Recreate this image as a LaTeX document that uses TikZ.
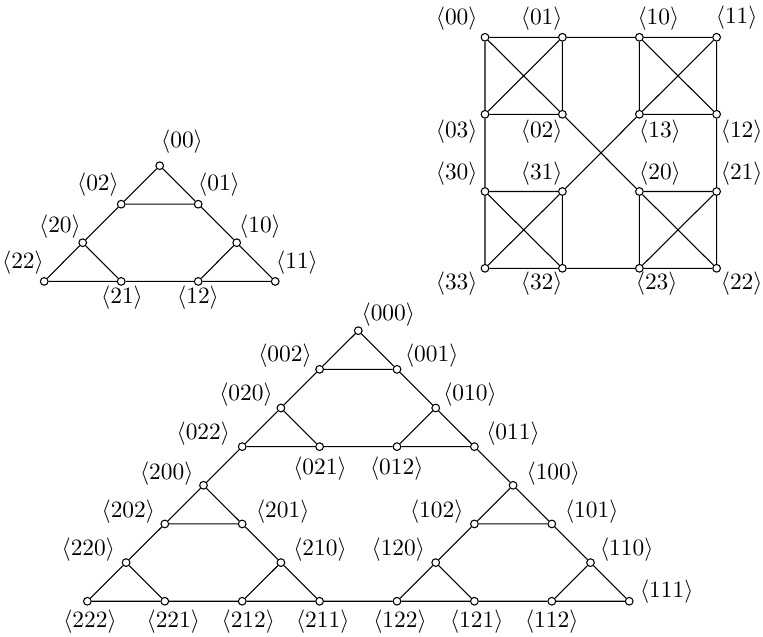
\documentclass[tikz,border=0pt]{standalone}
\begin{document}
\begin{tikzpicture}[x=0.468pt,y=-0.468pt,
  vtx/.style={circle,draw,fill=white,inner sep=0pt,minimum size=3.6pt,line width=0.5pt},
  edge/.style={line width=0.5pt},
  lbl/.style={inner sep=0pt,anchor=center,font=\fontsize{11}{13}\selectfont}]
\useasboundingbox (0,0) rectangle (763,637);
% ===== top-left triangle =====
\node[vtx] (a00) at (159.7,165.7) {};
\node[vtx] (a02) at (121.2,204.2) {};
\node[vtx] (a01) at (198.2,204.2) {};
\node[vtx] (a20) at (82.7,242.7) {};
\node[vtx] (a10) at (236.7,242.7) {};
\node[vtx] (a22) at (44.2,281.4) {};
\node[vtx] (a21) at (121.2,281.4) {};
\node[vtx] (a12) at (198.2,281.4) {};
\node[vtx] (a11) at (275.2,281.4) {};
\draw[edge] (a00)--(a02) (a00)--(a01) (a02)--(a01) (a02)--(a20) (a01)--(a10)
  (a20)--(a22) (a20)--(a21) (a22)--(a21) (a21)--(a12) (a10)--(a12) (a10)--(a11) (a12)--(a11);
\node[lbl] (la00) at (182,142) {$\langle 00\rangle$};
\node[lbl] (la02) at (98,185) {$\langle 02\rangle$};
\node[lbl] (la01) at (219,185) {$\langle 01\rangle$};
\node[lbl] (la20) at (60,227) {$\langle 20\rangle$};
\node[lbl] (la10) at (260,227) {$\langle 10\rangle$};
\node[lbl] (la22) at (23,263) {$\langle 22\rangle$};
\node[lbl] (la11) at (297,263) {$\langle 11\rangle$};
\node[lbl] (la21) at (122,298) {$\langle 21\rangle$};
\node[lbl] (la12) at (198,298) {$\langle 12\rangle$};
% ===== top-right square =====
\node[vtx] (s00) at (485,37.3) {};
\node[vtx] (s01) at (562.4,37.3) {};
\node[vtx] (s10) at (639.4,37.3) {};
\node[vtx] (s11) at (716.6,37.3) {};
\node[vtx] (s03) at (485,114.3) {};
\node[vtx] (s02) at (562.4,114.3) {};
\node[vtx] (s13) at (639.4,114.3) {};
\node[vtx] (s12) at (716.6,114.3) {};
\node[vtx] (s30) at (485,191.5) {};
\node[vtx] (s31) at (562.4,191.5) {};
\node[vtx] (s20) at (639.4,191.5) {};
\node[vtx] (s21) at (716.6,191.5) {};
\node[vtx] (s33) at (485,268.3) {};
\node[vtx] (s32) at (562.4,268.3) {};
\node[vtx] (s23) at (639.4,268.3) {};
\node[vtx] (s22) at (716.6,268.3) {};
\draw[edge]
  (s00)--(s01) (s01)--(s02) (s02)--(s03) (s03)--(s00) (s01)--(s03)
  (s10)--(s11) (s11)--(s12) (s12)--(s13) (s13)--(s10) (s10)--(s12)
  (s30)--(s31) (s31)--(s32) (s32)--(s33) (s33)--(s30) (s30)--(s32)
  (s20)--(s21) (s21)--(s22) (s22)--(s23) (s23)--(s20) (s21)--(s23)
  (s01)--(s10) (s03)--(s30) (s12)--(s21) (s32)--(s23)
  (s00)--(s02) (s02)--(s20) (s20)--(s22)
  (s11)--(s13) (s13)--(s31) (s31)--(s33);
\node[lbl] (ls00) at (456.7,18.3) {$\langle 00\rangle$};
\node[lbl] (ls01) at (541.7,18.3) {$\langle 01\rangle$};
\node[lbl] (ls10) at (658.3,18.3) {$\langle 10\rangle$};
\node[lbl] (ls11) at (736.7,17.5) {$\langle 11\rangle$};
\node[lbl] (ls03) at (456.7,131.7) {$\langle 03\rangle$};
\node[lbl] (ls02) at (541.7,131.7) {$\langle 02\rangle$};
\node[lbl] (ls13) at (660,131.7) {$\langle 13\rangle$};
\node[lbl] (ls12) at (741.7,131.7) {$\langle 12\rangle$};
\node[lbl] (ls30) at (456.7,173.3) {$\langle 30\rangle$};
\node[lbl] (ls31) at (541.7,173.3) {$\langle 31\rangle$};
\node[lbl] (ls20) at (660,173.3) {$\langle 20\rangle$};
\node[lbl] (ls21) at (741.7,173.3) {$\langle 21\rangle$};
\node[lbl] (ls33) at (456.7,283.3) {$\langle 33\rangle$};
\node[lbl] (ls32) at (541.7,283.3) {$\langle 32\rangle$};
\node[lbl] (ls23) at (656.7,283.3) {$\langle 23\rangle$};
\node[lbl] (ls22) at (741.7,283.3) {$\langle 22\rangle$};
% ===== bottom triangle =====
\node[vtx] (b000) at (358.3,330.7) {};
\node[vtx] (b002) at (319.6,369.35) {};
\node[vtx] (b001) at (397.0,369.35) {};
\node[vtx] (b020) at (280.9,408.0) {};
\node[vtx] (b010) at (435.7,408.0) {};
\node[vtx] (b022) at (242.2,446.65) {};
\node[vtx] (b021) at (319.6,446.65) {};
\node[vtx] (b012) at (397.0,446.65) {};
\node[vtx] (b011) at (474.4,446.65) {};
\node[vtx] (b200) at (203.5,485.3) {};
\node[vtx] (b100) at (513.1,485.3) {};
\node[vtx] (b202) at (164.8,523.95) {};
\node[vtx] (b201) at (242.2,523.95) {};
\node[vtx] (b102) at (474.4,523.95) {};
\node[vtx] (b101) at (551.8,523.95) {};
\node[vtx] (b220) at (126.1,562.6) {};
\node[vtx] (b210) at (280.9,562.6) {};
\node[vtx] (b120) at (435.7,562.6) {};
\node[vtx] (b110) at (590.5,562.6) {};
\node[vtx] (b222) at (87.4,601.25) {};
\node[vtx] (b221) at (164.8,601.25) {};
\node[vtx] (b212) at (242.2,601.25) {};
\node[vtx] (b211) at (319.6,601.25) {};
\node[vtx] (b122) at (397.0,601.25) {};
\node[vtx] (b121) at (474.4,601.25) {};
\node[vtx] (b112) at (551.8,601.25) {};
\node[vtx] (b111) at (629.2,601.25) {};
\draw[edge]
  (b000)--(b002) (b000)--(b001) (b002)--(b001) (b002)--(b020) (b001)--(b010)
  (b020)--(b022) (b020)--(b021) (b022)--(b021) (b021)--(b012) (b010)--(b012) (b010)--(b011) (b012)--(b011)
  (b022)--(b200) (b011)--(b100)
  (b200)--(b202) (b200)--(b201) (b202)--(b201) (b202)--(b220) (b201)--(b210)
  (b220)--(b222) (b220)--(b221) (b222)--(b221) (b221)--(b212) (b210)--(b212) (b210)--(b211) (b212)--(b211)
  (b100)--(b102) (b100)--(b101) (b102)--(b101) (b102)--(b120) (b101)--(b110)
  (b120)--(b122) (b120)--(b121) (b122)--(b121) (b121)--(b112) (b110)--(b112) (b110)--(b111) (b112)--(b111)
  (b211)--(b122);
\node[lbl] (lb000) at (388.3,315) {$\langle 000\rangle$};
\node[lbl] (lb002) at (285,356) {$\langle 002\rangle$};
\node[lbl] (lb001) at (431.7,356) {$\langle 001\rangle$};
\node[lbl] (lb020) at (246,395) {$\langle 020\rangle$};
\node[lbl] (lb010) at (470,395) {$\langle 010\rangle$};
\node[lbl] (lb022) at (203.3,433.3) {$\langle 022\rangle$};
\node[lbl] (lb011) at (513,433.3) {$\langle 011\rangle$};
\node[lbl] (lb021) at (320,468.3) {$\langle 021\rangle$};
\node[lbl] (lb012) at (396.7,468.3) {$\langle 012\rangle$};
\node[lbl] (lb200) at (166.7,473.3) {$\langle 200\rangle$};
\node[lbl] (lb100) at (553.3,473.3) {$\langle 100\rangle$};
\node[lbl] (lb202) at (128.3,511.7) {$\langle 202\rangle$};
\node[lbl] (lb201) at (282.7,511.7) {$\langle 201\rangle$};
\node[lbl] (lb102) at (436.7,511.7) {$\langle 102\rangle$};
\node[lbl] (lb101) at (591.7,511.7) {$\langle 101\rangle$};
\node[lbl] (lb220) at (88.3,550) {$\langle 220\rangle$};
\node[lbl] (lb210) at (320,550) {$\langle 210\rangle$};
\node[lbl] (lb120) at (398.3,550) {$\langle 120\rangle$};
\node[lbl] (lb110) at (626.7,550) {$\langle 110\rangle$};
\node[lbl] (lb111) at (666.7,591.7) {$\langle 111\rangle$};
\node[lbl] (lb222) at (90,621.7) {$\langle 222\rangle$};
\node[lbl] (lb221) at (173.3,621.7) {$\langle 221\rangle$};
\node[lbl] (lb212) at (248.3,621.7) {$\langle 212\rangle$};
\node[lbl] (lb211) at (322.7,621.7) {$\langle 211\rangle$};
\node[lbl] (lb122) at (400,621.7) {$\langle 122\rangle$};
\node[lbl] (lb121) at (476.7,621.7) {$\langle 121\rangle$};
\node[lbl] (lb112) at (551.7,621.7) {$\langle 112\rangle$};
\end{tikzpicture}
\end{document}
